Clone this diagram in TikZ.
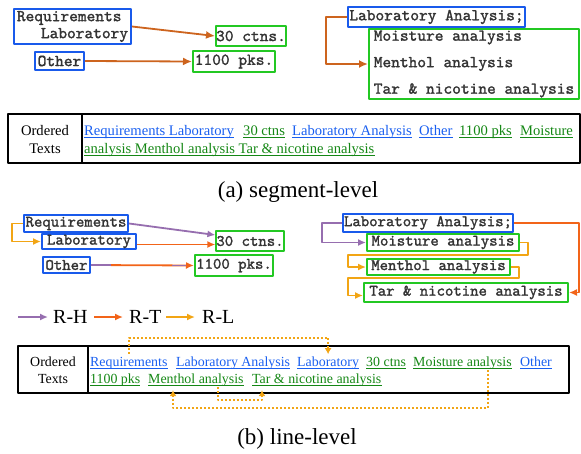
\documentclass[tikz,border=0pt]{standalone}
\usepackage{fontspec}
\setmainfont{Liberation Serif}
\newfontfamily\scanfont{lmmono10-regular}[Extension=.otf, FakeBold=1.6]
\usetikzlibrary{arrows.meta}

\definecolor{boxblue}{RGB}{25,90,235}
\definecolor{boxgreen}{RGB}{35,200,35}
\definecolor{segorange}{RGB}{205,100,30}
\definecolor{rhpurple}{RGB}{150,110,175}
\definecolor{rtorange}{RGB}{242,100,25}
\definecolor{rlamber}{RGB}{242,165,20}
\definecolor{lnkblue}{RGB}{25,95,240}
\definecolor{lnkgreen}{RGB}{20,135,20}

\begin{document}
\begin{tikzpicture}[x=1pt, y=-1pt, line join=round,
  blbox/.style={draw=boxblue, line width=2pt, inner sep=0pt, text=black!80},
  grbox/.style={draw=boxgreen, line width=2pt, inner sep=0pt, text=black!80},
  scana/.style={font=\scanfont\fontsize{16.6}{17}\selectfont},
  scanb/.style={font=\scanfont\fontsize{16}{17}\selectfont},
  word/.style={inner sep=0pt, anchor=base west},
  rta/.style={segorange, line width=1.8pt, -{Latex[length=9pt,width=8pt]}},
  rh/.style={rhpurple, line width=1.8pt, -{Latex[length=8pt,width=7pt]}},
  rt/.style={rtorange, line width=1.8pt, -{Latex[length=8pt,width=7pt]}},
  rl/.style={rlamber, line width=1.8pt, -{Latex[length=8pt,width=7pt]}},
  rldot/.style={rlamber, line width=2pt, dash pattern=on 2pt off 2pt,
    -{Latex[length=6pt,width=7pt]}}]
\useasboundingbox (0,0) rectangle (581,453);

% (a) segment-level
\node[blbox, scana, align=left, minimum width=117, minimum height=35]
  (reqlab) at (72.5,26.5) {Requirements\\\hspace*{24pt}Laboratory};
\node[grbox, scana, minimum width=70, minimum height=20] (ctns) at (251,36) {30 ctns.};
\node[blbox, scana, minimum width=49, minimum height=18] (oth) at (59.5,61) {Other};
\node[grbox, scana, minimum width=82, minimum height=21] (pks) at (234,61.5) {1100 pks.};
\node[blbox, scana, minimum width=177, minimum height=20] (labana) at (436.5,17) {Laboratory Analysis;};
\node[grbox, scana, align=left, minimum width=210, minimum height=70,
  font=\scanfont\fontsize{16.6}{26.5}\selectfont]
  (grp) at (474,64) {Moisture analysis\\Menthol analysis\\Tar \& nicotine analysis};

\draw[rta] (reqlab.east) -- (ctns.west);
\draw[rta] (oth.east) -- (pks.west);
\draw[rta] (labana.west) -- ++(-21,0) |- (grp.west);

% ordered texts, segment-level
\begin{scope}[font=\fontsize{14.6}{18}\selectfont]
\draw[line width=1.2pt] (8,114) rectangle (580,163);
\draw[line width=1.2pt] (82,114) -- (82,163);
\node[inner sep=0pt, anchor=base] (orda) at (45,135) {Ordered};
\node[inner sep=0pt, anchor=base] (txta) at (45,153) {Texts};
\node[word, text=lnkblue] (sa1) at (84,135) {Requirements Laboratory};
\node[word, text=lnkgreen] (sa2) at (243,135) {30 ctns};
\node[word, text=lnkblue] (sa3) at (292,135) {Laboratory Analysis};
\node[word, text=lnkblue] (sa4) at (419,135) {Other};
\node[word, text=lnkgreen] (sa5) at (459,135) {1100 pks};
\node[word, text=lnkgreen] (sa6) at (520,135) {Moisture};
\node[word, text=lnkgreen] (sa7) at (84,153) {analysis Menthol analysis Tar \& nicotine analysis};
\end{scope}
\foreach \w/\c in {sa1/lnkblue, sa2/lnkgreen, sa3/lnkblue, sa4/lnkblue, sa5/lnkgreen, sa6/lnkgreen, sa7/lnkgreen}
  \draw[\c, line width=1.3pt] ([yshift=-2.5pt]\w.base west) -- ([yshift=-2.5pt]\w.base east);
\node[font=\fontsize{23}{26}\selectfont] (capa) at (298,192) {(a) segment-level};

% (b) line-level
\begin{scope}[scanb]
\node[blbox, minimum width=104, minimum height=17] (req2) at (76,223.5) {Requirements};
\node[blbox, minimum width=94, minimum height=15] (lab2) at (89,241.5) {Laboratory};
\node[grbox, minimum width=66, minimum height=20] (ctn2) at (250,241) {30 ctns.};
\node[blbox, minimum width=47, minimum height=16] (oth2) at (66.5,265) {Other};
\node[grbox, minimum width=78, minimum height=21] (pks2) at (234,265.5) {1100 pks.};
\node[blbox, minimum width=170, minimum height=18] (lan2) at (428,223) {Laboratory Analysis;};
\node[grbox, minimum width=152, minimum height=17] (moi2) at (443,242.5) {Moisture analysis};
\node[grbox, minimum width=143, minimum height=16] (men2) at (438.5,267) {Menthol analysis};
\node[grbox, minimum width=204, minimum height=19] (tar2) at (466,292.5) {Tar \& nicotine analysis};
\end{scope}

\draw[rh] (req2.east) -- ([yshift=6pt]ctn2.west);
\draw[rt] ([yshift=-3pt]lab2.east) -- ([yshift=-3pt]lab2.east -| ctn2.west);
\draw[rt] (oth2.east) -- (pks2.west);
\draw[rhpurple, line width=1.8pt] (oth2.east) -- ++(20,0);
\draw[rhpurple, line width=1.8pt] ([xshift=-22pt]pks2.west) -- ([xshift=-8pt]pks2.west);
\draw[rl] (req2.west) -- ++(-11,0) |- (lab2.west);
\draw[rh] (lan2.west) -- ++(-20,0) |- (moi2.west);
\draw[rt] (lan2.east) -- ++(65,0) |- (tar2.east);
\draw[rl] (moi2.east) -- ++(8,0) -- ++(0,12.5) -| ([xshift=-18pt]men2.west) -- (men2.west);
\draw[rl] (men2.east) -- ++(8,0) -- ++(0,11) -| ([xshift=-15pt,yshift=-3pt]tar2.west)
  -- ([yshift=-3pt]tar2.west);

% legend
\begin{scope}[font=\fontsize{20}{22}\selectfont]
\coordinate (lg1) at (18,317);
\coordinate (lg2) at (94,317);
\coordinate (lg3) at (166,317);
\draw[rh] (lg1) -- ++(30,0);
\node[inner sep=0pt, anchor=west] (lgh) at (53,317) {R-H};
\draw[rt] (lg2) -- ++(29,0);
\node[inner sep=0pt, anchor=west] (lgt) at (129,317) {R-T};
\draw[rl] (lg3) -- ++(29,0);
\node[inner sep=0pt, anchor=west] (lgl) at (202,317) {R-L};
\end{scope}

% ordered texts, line-level
\begin{scope}[font=\fontsize{13.9}{18}\selectfont]
\draw[line width=1.2pt] (18,346) rectangle (569,393);
\draw[line width=1.2pt] (88,346) -- (88,393);
\node[inner sep=0pt, anchor=base] (ordb) at (53,366) {Ordered};
\node[inner sep=0pt, anchor=base] (txtb) at (53,383) {Texts};
\node[word, text=lnkblue] (rq) at (90,366) {Requirements};
\node[word, text=lnkblue] (la) at (176,366) {Laboratory Analysis};
\node[word, text=lnkblue] (lb) at (297,366) {Laboratory};
\node[word, text=lnkgreen] (ct) at (366,366) {30 ctns};
\node[word, text=lnkgreen] (mo) at (413,366) {Moisture analysis};
\node[word, text=lnkblue] (ot) at (520,366) {Other};
\node[word, text=lnkgreen] (pk) at (90,383) {1100 pks};
\node[word, text=lnkgreen] (me) at (148,383) {Menthol analysis};
\node[word, text=lnkgreen] (ta) at (252,383) {Tar \& nicotine analysis};
\end{scope}
\foreach \w/\c in {rq/lnkblue, la/lnkblue, lb/lnkblue, ct/lnkgreen, mo/lnkgreen, ot/lnkblue, pk/lnkgreen, me/lnkgreen, ta/lnkgreen}
  \draw[\c, line width=1.3pt] ([yshift=-2.5pt]\w.base west) -- ([yshift=-2.5pt]\w.base east);
\draw[rldot] ([yshift=3pt]rq.north) -- ++(0,-16) -| ([yshift=2pt]lb.north);
\draw[rldot] ([xshift=-24pt,yshift=-1pt]mo.south east) -- ++(0,38) -| ([xshift=25pt,yshift=-4pt]me.south west);
\draw[rldot] ([xshift=-26pt,yshift=-1pt]me.south east) -- ++(0,13) -| ([xshift=10pt,yshift=-4pt]ta.south west);
\node[font=\fontsize{23}{26}\selectfont] (capb) at (297,439) {(b) line-level};
\end{tikzpicture}
\end{document}
